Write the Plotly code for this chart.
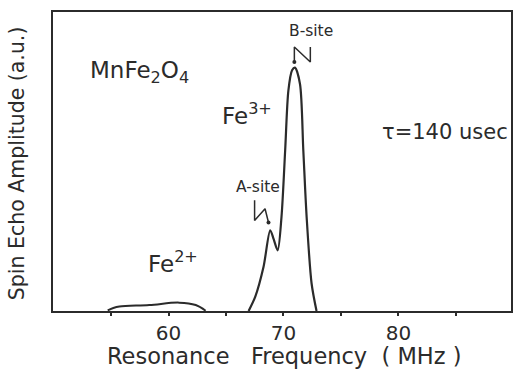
import plotly.graph_objects as go

# ---- data ----
freq_main = [66.97, 67.55, 68.27, 68.85, 69.15, 69.5, 69.83, 70.15, 70.43, 70.75, 71.01, 71.44, 71.73, 72.02, 72.45, 72.88]
amp_main = [0.0, 4.8, 14.8, 27.0, 24.0, 20.3, 31.4, 53.7, 73.7, 80.5, 81.4, 75.9, 53.7, 31.4, 9.2, 0.0]

freq_fe2 = [54.71, 55.2, 55.73, 58.33, 60.92, 62.37, 63.23]
amp_fe2 = [0.2, 1.0, 1.5, 2.0, 2.8, 2.0, 0.1]

tick_vals = [55, 60, 65, 70, 75, 80, 85]
tick_text = ["", "60", "", "70", "", "80", ""]

# lightning-style pointer marks (data coords)
b_mark_x = [70.95, 70.95, 72.34, 72.34]
b_mark_y = [83.3, 88.3, 83.3, 88.3]
a_mark_x = [67.49, 67.49, 68.40, 68.70]
a_mark_y = [37.0, 30.3, 34.2, 29.6]

INK = "#2b2b2b"
FONT = "DejaVu Sans"

fig = go.Figure()
fig.add_trace(go.Scatter(x=freq_fe2, y=amp_fe2, mode="lines",
                         line=dict(color=INK, width=2, shape="spline", smoothing=1.0),
                         hoverinfo="skip", showlegend=False))
fig.add_trace(go.Scatter(x=freq_main, y=amp_main, mode="lines",
                         line=dict(color=INK, width=2.2, shape="spline", smoothing=0.8),
                         hoverinfo="skip", showlegend=False))
fig.add_trace(go.Scatter(x=b_mark_x, y=b_mark_y, mode="lines",
                         line=dict(color=INK, width=1.5), hoverinfo="skip", showlegend=False))
fig.add_trace(go.Scatter(x=a_mark_x, y=a_mark_y, mode="lines",
                         line=dict(color=INK, width=1.5), hoverinfo="skip", showlegend=False))
fig.add_trace(go.Scatter(x=[b_mark_x[0], a_mark_x[-1]], y=[b_mark_y[0], a_mark_y[-1]], mode="markers",
                         marker=dict(color=INK, size=4), hoverinfo="skip", showlegend=False))

fig.update_layout(
    width=515, height=376,
    margin=dict(l=53, r=2, t=12, b=65),
    paper_bgcolor="white", plot_bgcolor="white",
    font=dict(family=FONT, color=INK, size=20),
    xaxis=dict(range=[49.95, 89.8], tickvals=tick_vals, ticktext=tick_text,
               ticks="outside", ticklen=3, tickwidth=1.5, tickcolor=INK,
               showline=True, linecolor=INK, linewidth=2, mirror=True,
               showgrid=False, zeroline=False, tickfont=dict(size=20, family=FONT, color=INK)),
    yaxis=dict(range=[0, 100], showticklabels=False, ticks="",
               showline=True, linecolor=INK, linewidth=2, mirror=True,
               showgrid=False, zeroline=False),
    annotations=[
        dict(xref="paper", yref="paper", x=-0.078, y=0.495, text="Spin Echo Amplitude (a.u.)",
             textangle=-90, showarrow=False, font=dict(size=20.5), xanchor="center", yanchor="middle"),
        dict(xref="paper", yref="paper", x=0.504, y=-0.152, text="Resonance&nbsp;&nbsp; Frequency&nbsp; ( MHz )",
             showarrow=False, font=dict(size=22.5), xanchor="center", yanchor="middle"),
        dict(x=53.0, y=80, text="MnFe<sub>2</sub>O<sub>4</sub>", showarrow=False,
             font=dict(size=23), xanchor="left", yanchor="middle"),
        dict(x=64.5, y=66, text="Fe<sup>3+</sup>", showarrow=False,
             font=dict(size=23), xanchor="left", yanchor="middle"),
        dict(x=58.0, y=16.5, text="Fe<sup>2+</sup>", showarrow=False,
             font=dict(size=23), xanchor="left", yanchor="middle"),
        dict(x=78.4, y=60, text="τ=140 usec", showarrow=False,
             font=dict(size=21), xanchor="left", yanchor="middle"),
        dict(x=72.4, y=93.7, text="B-site", showarrow=False,
             font=dict(size=15.5), xanchor="center", yanchor="middle"),
        dict(x=67.8, y=41.5, text="A-site", showarrow=False,
             font=dict(size=15.5), xanchor="center", yanchor="middle"),
    ],
)

fig.write_html("out.html", config={"displayModeBar": False},
               post_script="document.body.style.margin='0';document.body.style.padding='0';")
